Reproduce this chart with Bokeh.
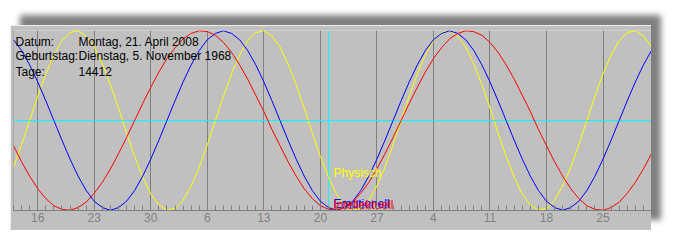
from bokeh.plotting import figure
from bokeh.models import Range1d, FixedTicker, Span
from bokeh.core.properties import value
from bokeh.embed import file_html
from bokeh.resources import INLINE

# ---- data (one value per day, 13 March .. 31 May 2008) ----
days = list(range(80))
physical = [-0.52, -0.27,
            0.00, 0.27, 0.52, 0.73, 0.89, 0.98, 1.00, 0.94, 0.82, 0.63, 0.40, 0.14,
            -0.14, -0.40, -0.63, -0.82, -0.94, -1.00, -0.98, -0.89, -0.73, -0.52, -0.27,
            0.00, 0.27, 0.52, 0.73, 0.89, 0.98, 1.00, 0.94, 0.82, 0.63, 0.40, 0.14,
            -0.14, -0.40, -0.63, -0.82, -0.94, -1.00, -0.98, -0.89, -0.73, -0.52, -0.27,
            0.00, 0.27, 0.52, 0.73, 0.89, 0.98, 1.00, 0.94, 0.82, 0.63, 0.40, 0.14,
            -0.14, -0.40, -0.63, -0.82, -0.94, -1.00, -0.98, -0.89, -0.73, -0.52, -0.27,
            0.00, 0.27, 0.52, 0.73, 0.89, 0.98, 1.00, 0.94, 0.82]
emotional = [0.90, 0.78, 0.62, 0.43, 0.22, 0.00, -0.22, -0.43, -0.62, -0.78,
             -0.90, -0.97, -1.00, -0.97, -0.90, -0.78, -0.62, -0.43, -0.22,
             0.00, 0.22, 0.43, 0.62, 0.78, 0.90, 0.97, 1.00, 0.97, 0.90, 0.78, 0.62, 0.43, 0.22,
             0.00, -0.22, -0.43, -0.62, -0.78, -0.90, -0.97, -1.00, -0.97, -0.90, -0.78, -0.62, -0.43, -0.22,
             0.00, 0.22, 0.43, 0.62, 0.78, 0.90, 0.97, 1.00, 0.97, 0.90, 0.78, 0.62, 0.43, 0.22,
             0.00, -0.22, -0.43, -0.62, -0.78, -0.90, -0.97, -1.00, -0.97, -0.90, -0.78, -0.62, -0.43, -0.22,
             0.00, 0.22, 0.43, 0.62, 0.78]
intellectual = [-0.28, -0.46, -0.62, -0.76, -0.87, -0.95, -0.99, -1.00, -0.97, -0.91,
                -0.81, -0.69, -0.54, -0.37, -0.19,
                0.00, 0.19, 0.37, 0.54, 0.69, 0.81, 0.91, 0.97, 1.00, 0.99, 0.95, 0.87, 0.76,
                0.62, 0.46, 0.28, 0.10, -0.10, -0.28, -0.46, -0.62, -0.76, -0.87, -0.95, -0.99,
                -1.00, -0.97, -0.91, -0.81, -0.69, -0.54, -0.37, -0.19,
                0.00, 0.19, 0.37, 0.54, 0.69, 0.81, 0.91, 0.97, 1.00, 0.99, 0.95, 0.87, 0.76,
                0.62, 0.46, 0.28, 0.10, -0.10, -0.28, -0.46, -0.62, -0.76, -0.87, -0.95, -0.99,
                -1.00, -0.97, -0.91, -0.81, -0.69, -0.54, -0.37]

tick_days = [3, 10, 17, 24, 31, 38, 45, 52, 59, 66, 73]
tick_labels = ["16", "23", "30", "6", "13", "20", "27", "4", "11", "18", "25"]
today_index = 39

series_names = ["Physisch", "Emotionell", "Intellektuell"]
series_colors = ["#ffff00", "#0000ff", "#ff0000"]

info_labels = ["Datum:", "Geburtstag:", "Tage:"]
info_values = ["Montag, 21. April 2008", "Dienstag, 5. November 1968", "14412"]

FONT = "Liberation Sans"
PANEL = "#c0c0c0"
DARK = "#808080"

p = figure(width=641, height=205, output_backend="svg", toolbar_location=None,
           x_range=Range1d(0, 79), y_range=Range1d(-1.003, 1.003),
           min_border_left=3, min_border_right=0, min_border_top=5, min_border_bottom=20,
           background_fill_color=PANEL, border_fill_color=PANEL, outline_line_color=None)
p.margin = (25, 0, 0, 10)
p.styles = {"box-shadow": "10px -10px 6px #808080"}

p.yaxis.visible = False
p.ygrid.visible = False

ax = p.xaxis[0]
ax.ticker = FixedTicker(ticks=tick_days, minor_ticks=days)
ax.major_label_overrides = {d: t for d, t in zip(tick_days, tick_labels)}
ax.axis_line_color = DARK
ax.major_tick_line_color = DARK
ax.minor_tick_line_color = DARK
ax.major_tick_in = 5
ax.major_tick_out = 0
ax.minor_tick_in = 5
ax.minor_tick_out = 0
ax.major_label_standoff = 2
ax.major_label_text_color = DARK
ax.major_label_text_font = FONT
ax.major_label_text_font_size = "12px"

p.xgrid.grid_line_color = DARK
p.xgrid.grid_line_alpha = 1.0

p.add_layout(Span(location=0, dimension="height", line_color=DARK, line_width=1, level="underlay"))
p.add_layout(Span(location=0, dimension="width", line_color="#00ffff", line_width=1, level="underlay"))
p.add_layout(Span(location=today_index, dimension="height", line_color="#00ffff", line_width=1, level="underlay"))

for vals, col in zip([physical, emotional, intellectual], series_colors):
    p.line(days, vals, line_color=col, line_width=1)

# labels at today's value
for vals, col, name in zip([physical, emotional, intellectual], series_colors, series_names):
    p.text(x=[today_index], y=[vals[today_index]], text=[name], text_color=col,
           text_font=value(FONT), text_font_size="12px", text_baseline="alphabetic",
           text_align="left", x_offset=5, y_offset=-4)

# info block
info_y = [0.83, 0.67, 0.50]
p.text(x=[0] * 3, y=info_y, text=info_labels, text_color="black", text_font=value(FONT),
       text_font_size="12px", text_baseline="alphabetic", x_offset=2, y_offset=-4)
p.text(x=[0] * 3, y=info_y, text=info_values, text_color="black", text_font=value(FONT),
       text_font_size="12px", text_baseline="alphabetic", x_offset=65, y_offset=-4)

open("out.html", "w").write(file_html(p, INLINE))
